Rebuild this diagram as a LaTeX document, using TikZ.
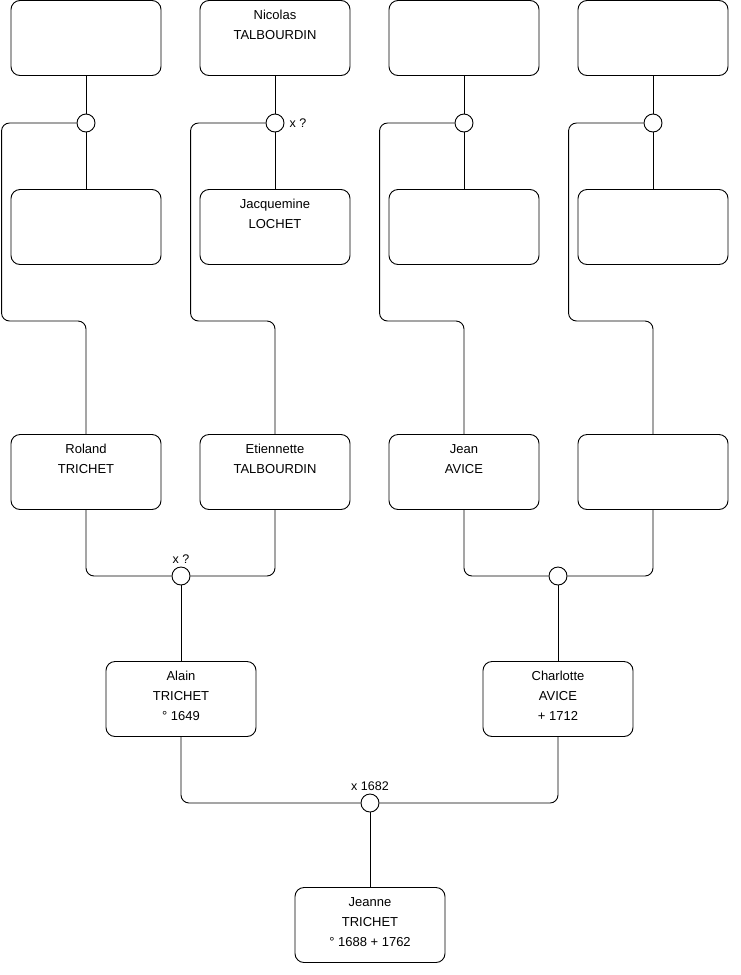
\documentclass[tikz,border=0pt]{standalone}
\usepackage{fontspec}
\setmainfont{Liberation Sans}
\usepackage{tikz}
\usetikzlibrary{positioning, calc}

\begin{document}
\begin{tikzpicture}[
    x=1pt, y=-1pt,
    person/.style={rectangle, draw=black, fill=white, rounded corners=9pt, line width=0.9pt, minimum width=150pt, minimum height=75pt, inner sep=0pt},
    who/.style={anchor=north, align=center, inner sep=0pt, yshift=-10pt, font=\fontsize{13}{20}\selectfont, execute at begin node=\strut},
    union/.style={circle, draw=black, fill=white, line width=0.9pt, minimum size=18pt, inner sep=0pt},
    note/.style={font=\fontsize{12.5}{15}\selectfont, inner sep=1pt},
    link/.style={draw=black, line width=0.9pt, rounded corners=8pt}
]
\useasboundingbox (0,0) rectangle (740,975);

% Great-grandparents
\node[person] (ggp1) at (86,38) {};
\node[person, label={[who]north:Nicolas\\TALBOURDIN}] (ggp2) at (275,38) {};
\node[person] (ggp3) at (464,38) {};
\node[person] (ggp4) at (653,38) {};

\node[person] (ggm1) at (86,227) {};
\node[person, label={[who]north:Jacquemine\\LOCHET}] (ggm2) at (275,227) {};
\node[person] (ggm3) at (464,227) {};
\node[person] (ggm4) at (653,227) {};

% Grandparents
\node[person, label={[who]north:Roland\\TRICHET}] (roland) at (86,472) {};
\node[person, label={[who]north:Etiennette\\TALBOURDIN}] (etiennette) at (275,472) {};
\node[person, label={[who]north:Jean\\AVICE}] (jean) at (464,472) {};
\node[person] (avicewife) at (653,472) {};

% Parents
\node[person, label={[who]north:Alain\\TRICHET\\° 1649}] (alain) at (181,699) {};
\node[person, label={[who]north:Charlotte\\AVICE\\+ 1712}] (charlotte) at (558,699) {};

% Child
\node[person, label={[who]north:Jeanne\\TRICHET\\° 1688 + 1762}] (jeanne) at (370,925) {};

% Unions
\node[union] (u1) at (86,123) {};
\node[union, label={[note, xshift=4pt]right:x ?}] (u2) at (275,123) {};
\node[union] (u3) at (464,123) {};
\node[union] (u4) at (653,123) {};
\node[union, label={[note, yshift=2pt]above:x ?}] (u5) at (181,576) {};
\node[union] (u6) at (558,576) {};
\node[union, label={[note, yshift=2pt]above:x 1682}] (u7) at (370,803) {};

% Links
\foreach \n/\c in {1/roland, 2/etiennette, 3/jean, 4/avicewife} {
  \draw[link] (ggp\n) -- (u\n);
  \draw[link] (u\n) -- (ggm\n);
  \draw[link] (u\n.west) -| ++(-75,198) -| (\c.north);
}
\draw[link] (roland.south) |- (u5.west);
\draw[link] (etiennette.south) |- (u5.east);
\draw[link] (jean.south) |- (u6.west);
\draw[link] (avicewife.south) |- (u6.east);
\draw[link] (u5) -- (alain);
\draw[link] (u6) -- (charlotte);
\draw[link] (alain.south) |- (u7.west);
\draw[link] (charlotte.south) |- (u7.east);
\draw[link] (u7) -- (jeanne);

\end{tikzpicture}
\end{document}
